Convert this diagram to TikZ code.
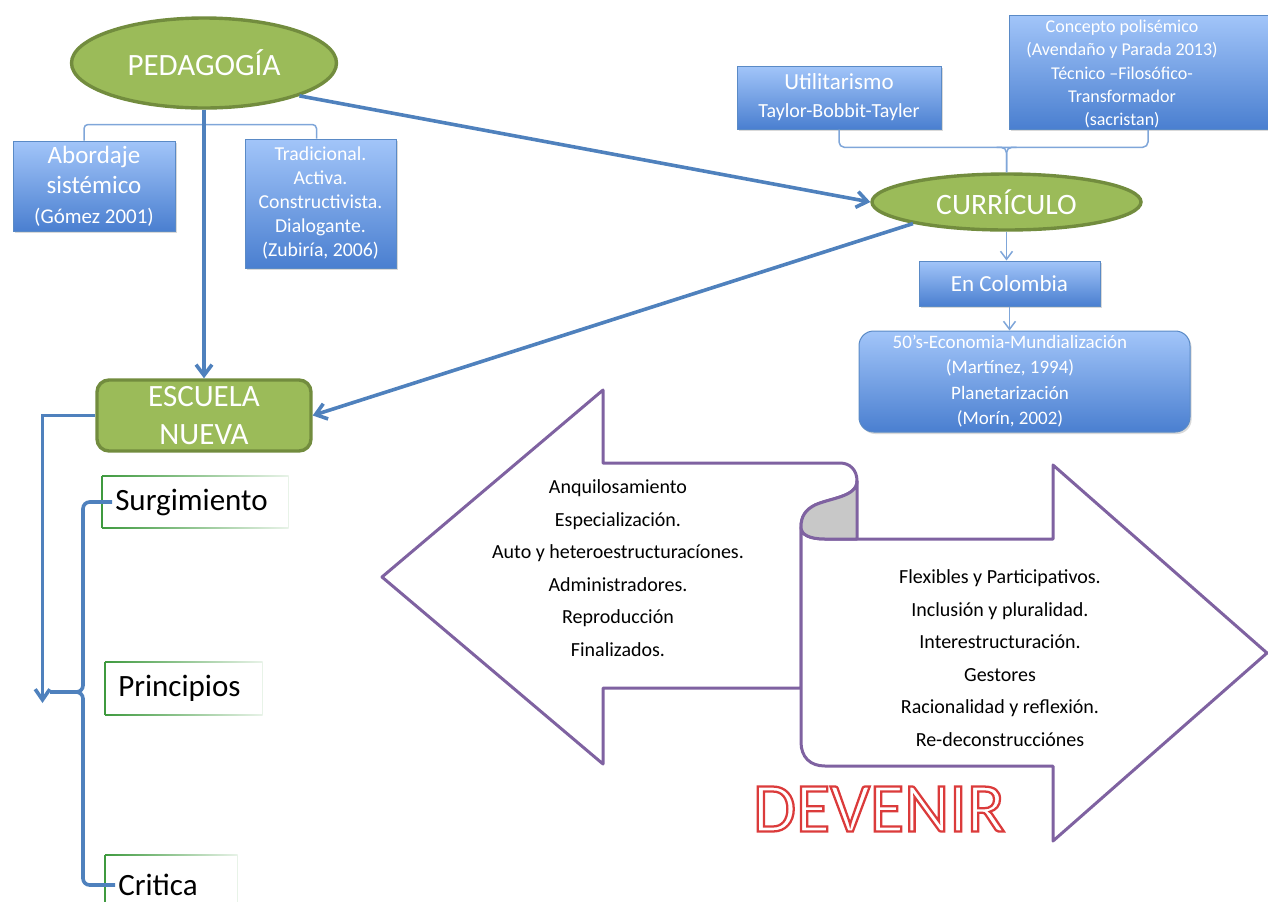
\documentclass[tikz,border=0pt]{standalone}
\usepackage{fontspec}
\setmainfont{Carlito}
\usetikzlibrary{arrows.meta,shapes.geometric,shadows,calc}

% one drawing unit = one pixel of the layout grid
\newdimen\pxu
\pxu=0.75pt
\newcommand\pxfont[2]{\fontsize{#1}{#2}\selectfont}
% stroked (hollow) letters through the PDF text rendering mode
\newcommand\hollowred[1]{\special{pdf:literal direct 1 Tr 1.7 w 0.86 0.23 0.23 RG}#1\special{pdf:literal direct 0 Tr}}

\definecolor{leaf}{HTML}{9BBB59}
\definecolor{leafedge}{HTML}{728C3E}
\definecolor{skytop}{HTML}{A2C5F9}
\definecolor{skybot}{HTML}{4A7FD0}
\definecolor{skyedge}{HTML}{5A8AC6}
\definecolor{linkblue}{HTML}{4F81BD}
\definecolor{thinblue}{HTML}{7FA6D9}
\definecolor{ribbonline}{HTML}{7F62A1}
\definecolor{foldgray}{HTML}{C8C8C8}
\definecolor{devred}{HTML}{DC3A3A}
\definecolor{tabgreen}{HTML}{3F9A3F}

\tikzset{
  blob/.style={ellipse, draw=leafedge, line width=3.4\pxu, fill=leaf, text=white, inner sep=0pt},
  leafbox/.style={rectangle, rounded corners=9pt, draw=leafedge, line width=3.4\pxu, fill=leaf,
    text=white, align=center, inner sep=0pt},
  skybox/.style={rectangle, draw=skyedge, line width=1\pxu, top color=skytop, bottom color=skybot,
    text=white, align=center, inner sep=0pt,
    drop shadow={opacity=0.3, shadow xshift=1.2pt, shadow yshift=-1.5pt}},
  overlay text/.style={text=white, align=center, inner sep=0pt},
  tab/.style={anchor=west, inner xsep=13\pxu, inner ysep=0pt, align=left, text=black,
    font=\pxfont{23.25pt}{28pt}},
  link/.style={draw=linkblue, line width=3.6\pxu},
  thinlink/.style={draw=thinblue, line width=1.5\pxu},
  ribbon/.style={draw=ribbonline, line width=3\pxu, line join=round},
  barb/.style={-{Straight Barb[length=8pt,width=12pt]}},
  smallbarb/.style={-{Straight Barb[length=6pt,width=9pt]}},
  ribbon text/.style={align=center, text=black, font=\pxfont{15pt}{24.4pt}},
}

\begin{document}
\begin{tikzpicture}[x=0.75pt, y=-0.75pt]
\useasboundingbox (0,0) rectangle (1268,901);

% --- ribbon with the two opposite arrows
\begin{scope}[ribbon]
  \filldraw[fill=white] (382,577) -- (603,390) -- (603,463) -- (840,463)
    .. controls (850,463) and (857,470) .. (857,481)
    .. controls (857,497) and (830,498) .. (815,505)
    .. controls (805,510) and (801,517) .. (801,527)
    -- (801,688) -- (603,688) -- (603,764) -- cycle;
  \filldraw[fill=white] (801,527) -- (801,742)
    .. controls (801,757) and (810,766) .. (825,766)
    -- (1053,766) -- (1053,841) -- (1267,653) -- (1053,465) -- (1053,539)
    -- (825,539) .. controls (810,539) and (801,535) .. (801,527) -- cycle;
  \filldraw[fill=foldgray] (857,481)
    .. controls (857,497) and (830,498) .. (815,505)
    .. controls (805,510) and (801,517) .. (801,527)
    .. controls (801,535) and (810,539) .. (825,539) -- (857,539) -- cycle;
\end{scope}

\node[ribbon text] (oldtext) at (618,568)
  {Anquilosamiento\\Especialización.\\Auto y heteroestructuracíones.\\Administradores.\\Reproducción\\Finalizados.};
\node[ribbon text] (newtext) at (1000,658)
  {Flexibles y Participativos.\\Inclusión y pluralidad.\\Interestructuración.\\Gestores\\Racionalidad y reflexión.\\Re-deconstrucciónes};

% outlined title
\node[inner sep=0pt, text=devred, font=\pxfont{52.5pt}{60pt}] (devenir) at (879,809) {\hollowred{DEVENIR}};

% --- main concepts
\node[blob, minimum width=265\pxu, minimum height=90\pxu, font=\pxfont{23.25pt}{28pt}] (ped) at (204,63) {PEDAGOGÍA};
\node[blob, minimum width=269\pxu, minimum height=56\pxu, font=\pxfont{22.2pt}{26pt}] (cur) at (1006.5,202) {CURRÍCULO};
\node[leafbox, minimum width=214\pxu, minimum height=71\pxu, font=\pxfont{23.25pt}{28.5pt}] (esc) at (204,415.5) {ESCUELA\\NUEVA};

% --- blue boxes
\node[skybox, minimum width=162\pxu, minimum height=90\pxu, font=\pxfont{18.75pt}{22.5pt}] (abor) at (94,186)
  {Abordaje\\sistémico\\{\pxfont{15.75pt}{21pt}(Gómez 2001)}};
\node[skybox, minimum width=151\pxu, minimum height=129\pxu, font=\pxfont{14.8pt}{18pt}] (trad) at (320.5,203.5)
  {Tradicional.\\Activa.\\Constructivista.\\Dialogante.\\(Zubiría, 2006)};
\node[skybox, minimum width=204\pxu, minimum height=63\pxu, font=\pxfont{17.25pt}{21pt}] (util) at (839,97.5)
  {Utilitarismo\\{\pxfont{15pt}{21pt}Taylor-Bobbit-Tayler}};
\node[skybox, minimum width=262\pxu, minimum height=114\pxu] (conc) at (1140,72) {};
\node[overlay text, font=\pxfont{13.5pt}{17.6pt}] (conctext) at (1122,74)
  {Concepto polisémico\\(Avendaño y Parada 2013)\\Técnico –Filosófico-\\Transformador\\(sacristan)};
\node[skybox, minimum width=181\pxu, minimum height=45\pxu, font=\pxfont{17.25pt}{20pt}] (col) at (1009.5,283.5) {En Colombia};
\node[skybox, rounded corners=11pt, minimum width=331\pxu, minimum height=101\pxu] (fifty) at (1024.5,381.5) {};
\node[overlay text, font=\pxfont{14.25pt}{19pt}] (fiftytext) at (1010,381)
  {50’s-Economia-Mundialización\\(Martínez, 1994)\\Planetarización\\(Morín, 2002)};

% --- tabs under Escuela Nueva
\node[tab, minimum height=52\pxu, text width=160\pxu] (surg) at (102,502) {Surgimiento};
\node[tab, minimum height=53\pxu, text width=131\pxu] (prin) at (105,688.5) {Principios};
\node[tab, minimum height=60\pxu, text width=106\pxu] (crit) at (105,885) {Critica};
\foreach \t in {surg,prin,crit} {
  \shade[left color=tabgreen, right color=tabgreen!12] (\t.north west) rectangle ([yshift=-0.9pt]\t.north east);
  \shade[left color=tabgreen, right color=tabgreen!12] (\t.south west) rectangle ([yshift=0.9pt]\t.south east);
  \draw[tabgreen!12, line width=1.2\pxu] (\t.north east) -- (\t.south east);
  \draw[tabgreen, line width=1.2\pxu] (\t.north west) -- (\t.south west);
}

% --- thin brackets
\draw[thinlink, rounded corners=3pt] ([xshift=-7.5pt]abor.north) |- ($(trad.north)+(-4,-14)$) -- ([xshift=-3pt]trad.north);
\draw[thinlink, rounded corners=4pt] (util.south) |- ($(cur.north)+(0,-25)$) -| ([xshift=6pt]conc.south);
\draw[thinlink, rounded corners=4pt] ($(cur.north)+(-10,-25)$) -| (cur.north);
\draw[thinlink, rounded corners=4pt] ($(cur.north)+(10,-25)$) -| (cur.north);

% --- thin arrows
\draw[thinlink, smallbarb] (cur.south) -- (cur.south |- col.north);
\draw[thinlink, smallbarb] (col.south) -- (col.south |- fifty.north);

% --- thick connectors
\draw[link, barb] (ped.south) -- (esc.north);
\draw[link, barb] (ped.-19) -- (cur.west);
\draw[link, barb] (cur.193) -- (esc.east);

\coordinate (downend) at (42.5,703);
\draw[link, -{Straight Barb[length=8pt,width=11pt]}] (esc.west) -| (downend);

\coordinate (bracetip) at (50,692);
\draw[link, rounded corners=5pt] ([xshift=7.5pt]surg.west) -| (83,692) -- (bracetip);
\draw[link, rounded corners=5pt] ([xshift=7.5pt]crit.west) -| (83,692) -- (bracetip);
\end{tikzpicture}
\end{document}
